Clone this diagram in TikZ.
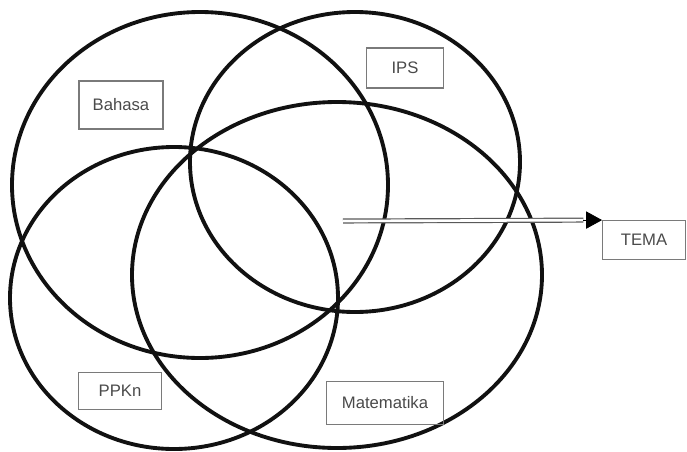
\documentclass[tikz,border=0pt]{standalone}
\usepackage{fontspec}
\setmainfont{Liberation Sans}
\usetikzlibrary{arrows.meta,calc}
\definecolor{cring}{HTML}{111111}
\definecolor{cbox}{HTML}{7A7A7A}
\definecolor{ctext}{HTML}{4A4A4A}

\begin{document}
\begin{tikzpicture}[
    x=0.75pt, y=-0.75pt,
    ring/.style={draw=cring, line width=2.9pt},
    lbl/.style={draw=cbox, line width=0.9pt, text=ctext, inner sep=0pt,
      font=\fontsize{12.5}{14}\selectfont},
    dbl/.style={draw=black!65, double=white, double distance=2pt, line width=0.9pt},
  ]
  \useasboundingbox (0,0) rectangle (687,451);
  % the four subject fields
  \draw[ring] (200,185) ellipse [x radius=188, y radius=173];
  \draw[ring] (355,162) ellipse [x radius=165, y radius=150];
  \draw[ring] (174,298) ellipse [x radius=164, y radius=151];
  \draw[ring] (337,275) ellipse [x radius=205, y radius=173];
  % labels
  \node[lbl, minimum width=63pt, minimum height=36pt] (bahasa) at (121,105) {Bahasa};
  \node[lbl, minimum width=58pt, minimum height=30pt] (ips) at (405,68) {IPS};
  \node[lbl, minimum width=62pt, minimum height=28pt] (ppkn) at (120,391) {PPKn};
  \node[lbl, minimum width=88pt, minimum height=32pt] (mtk) at (385,403) {Matematika};
  \node[lbl, minimum width=62pt, minimum height=29pt] (tema) at (644,240) {TEMA};
  % the theme arrow
  \coordinate (start) at (343,221);
  \draw[dbl, shorten >=14pt] (start) -- (tema.north west);
  \draw[-{Triangle[length=12pt, width=13pt]}, line width=0.6pt]
    ($(tema.north west)+(-14pt,0)$) -- (tema.north west);
\end{tikzpicture}
\end{document}
